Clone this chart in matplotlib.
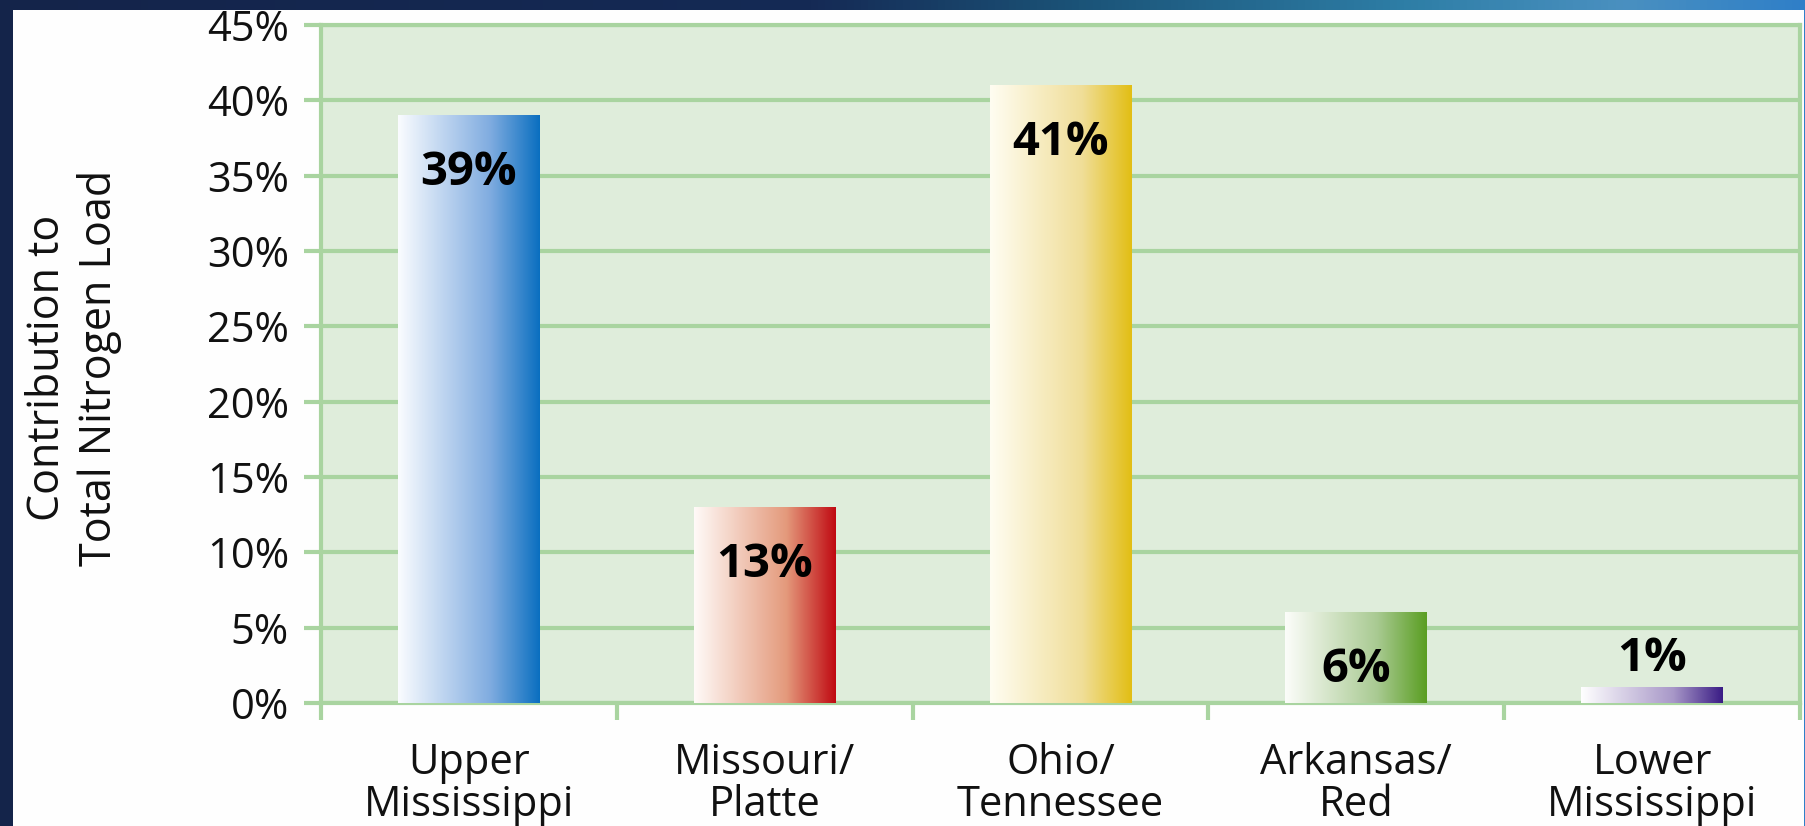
import numpy as np
import matplotlib
matplotlib.use('Agg')
import matplotlib.pyplot as plt
from matplotlib.colors import LinearSegmentedColormap
from matplotlib.patches import Rectangle

# data
regions = ['Upper\nMississippi', 'Missouri/\nPlatte', 'Ohio/\nTennessee', 'Arkansas/\nRed', 'Lower\nMississippi']
shares = [39, 13, 41, 6, 1]
bar_colors = [
    ['#FAFCFF', '#80ACE0', '#0A6FC0'],
    ['#FFFAF8', '#E49A7C', '#C00A12'],
    ['#FFFDF2', '#F0DE98', '#E2BE14'],
    ['#FCFDFA', '#A9CA92', '#5A9E22'],
    ['#FFFFFF', '#A898C8', '#3A1C85'],
]
yticks = list(range(0, 50, 5))

plt.rcParams['font.family'] = ['Open Sans', 'DejaVu Sans']

W, H = 1806, 826
fig = plt.figure(figsize=(W / 100, H / 100), dpi=100)

# dark frame around the white panel
bg = fig.add_axes([0, 0, 1, 1])
bg_cmap = LinearSegmentedColormap.from_list(
    'bg', [(0, '#14244A'), (0.45, '#152A55'), (0.6, '#1B5478'),
           (0.78, '#2E7EA6'), (0.9, '#4A90C0'), (1, '#2F7FC8')])
bg.imshow(np.linspace(0, 1, 256)[None, :], aspect='auto', cmap=bg_cmap,
          extent=[0, 1, 0, 1])
bg.add_patch(Rectangle((13 / W, 0), (1804 - 13) / W, (H - 10) / H,
                       facecolor='#FEFEFE', edgecolor='none'))
bg.set_xlim(0, 1)
bg.set_ylim(0, 1)
bg.axis('off')

grid_c = '#A9D4A0'
ax = fig.add_axes([321 / W, 123 / H, (1800 - 321) / W, 678 / H])
ax.set_facecolor('#DFEDDB')

x = np.arange(len(regions))
bars = ax.bar(x, shares, width=0.48, color='none', zorder=3)
for bar, cols in zip(bars, bar_colors):
    cmap = LinearSegmentedColormap.from_list('g', [(0, cols[0]), (0.65, cols[1]), (1, cols[2])])
    x0, y0 = bar.get_x(), bar.get_y()
    ax.imshow(np.linspace(0, 1, 256)[None, :], aspect='auto', cmap=cmap,
              extent=[x0, x0 + bar.get_width(), y0, y0 + bar.get_height()], zorder=3)

# value labels: inside the bar near the top, above it for the tiny one
for xi, v in zip(x, shares):
    dy = -41 if v > 3 else 21
    ax.annotate(f'{v}%', (xi, v), xytext=(0, dy), textcoords='offset points',
                ha='center', va='center', fontsize=34, fontweight='bold', zorder=4)

ax.set_xlim(-0.5, 4.5)
ax.set_ylim(0, 45)

ax.set_yticks(yticks)
ax.set_yticklabels([f'{t}%' for t in yticks], fontsize=30, color='#111111')
ax.yaxis.grid(True, color=grid_c, linewidth=3)
ax.set_axisbelow(True)
ax.tick_params(axis='y', length=12, width=3, color=grid_c, pad=11)

ax.set_xticks(x)
ax.set_xticklabels(regions, fontsize=30, color='#111111', linespacing=1.0)
ax.set_xticks(np.arange(-0.5, 5, 1), minor=True)
ax.tick_params(axis='x', which='major', length=0, pad=28)
ax.tick_params(axis='x', which='minor', length=12, width=3, color=grid_c)

for s in ax.spines.values():
    s.set_color(grid_c)
    s.set_linewidth(3)

fig.text(74 / W, 458 / H, 'Contribution to\nTotal Nitrogen Load', rotation=90,
         ha='center', va='center', fontsize=31, color='#111111', linespacing=1.2)

fig.savefig('out.png', dpi=100)
